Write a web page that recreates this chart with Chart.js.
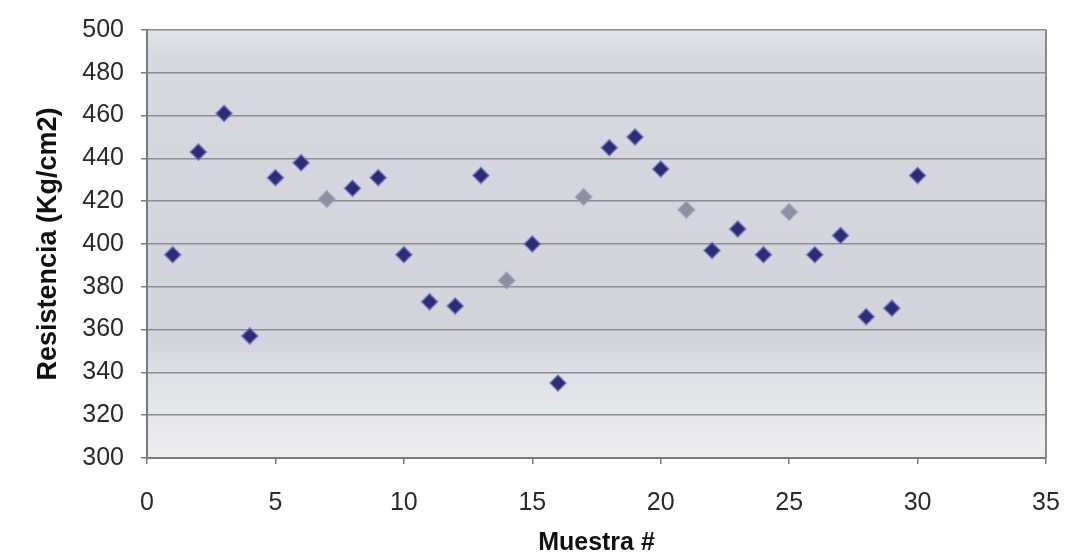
<!DOCTYPE html>
<html>
<head>
<meta charset="utf-8">
<script src="https://cdn.jsdelivr.net/npm/chart.js@4/dist/chart.umd.min.js"></script>
<style>
  html, body { margin: 0; padding: 0; background: #ffffff; }
  #wrap { width: 1065px; height: 560px; }
</style>
</head>
<body>
<div id="wrap"><canvas id="c" width="1065" height="560"></canvas></div>
<script>
// ---- data ----
const muestras = [1, 2, 3, 4, 5, 6, 7, 8, 9, 10, 11, 12, 13, 14, 15,
                  16, 17, 18, 19, 20, 21, 22, 23, 24, 25, 26, 27, 28, 29, 30];
const resistencia = [395, 443, 461, 357, 431, 438, 421, 426, 431, 395,
                     373, 371, 432, 383, 400, 335, 422, 445, 450, 435,
                     416, 397, 407, 395, 415, 395, 404, 366, 370, 432];
const xTickValues = [0, 5, 10, 15, 20, 25, 30, 35];
const yTickValues = [300, 320, 340, 360, 380, 400, 420, 440, 460, 480, 500];
const xTitle = 'Muestra #';
const yTitle = 'Resistencia (Kg/cm2)';
// samples that appear faded (greyish) in the scanned reference
const fadedSamples = [7, 14, 17, 21, 25];

const points = muestras.map((m, i) => ({ x: m, y: resistencia[i] }));
const fillColors = muestras.map(m => fadedSamples.includes(m) ? '#8d8fa3' : '#2c2d78');
const edgeColors = muestras.map(m => fadedSamples.includes(m) ? 'rgba(150,152,170,0.6)' : 'rgba(110,112,190,0.55)');

const plotBackground = {
  id: 'plotBackground',
  beforeDraw(chart) {
    const { ctx, chartArea: a } = chart;
    ctx.save();
    const g = ctx.createLinearGradient(0, a.top, 0, a.bottom);
    g.addColorStop(0.00, '#e2e2e8');
    g.addColorStop(0.06, '#d8d9e0');
    g.addColorStop(0.50, '#d3d4dc');
    g.addColorStop(0.72, '#d2d3db');
    g.addColorStop(0.80, '#dfe0e5');
    g.addColorStop(1.00, '#eeeef1');
    ctx.fillStyle = g;
    ctx.fillRect(a.left, a.top, a.right - a.left, a.bottom - a.top);
    ctx.restore();
  },
  afterDatasetsDraw(chart) {
    const { ctx, chartArea: a } = chart;
    ctx.save();
    ctx.strokeStyle = '#8a8a8e';
    ctx.lineWidth = 2;
    ctx.beginPath();
    ctx.moveTo(a.right, a.top);
    ctx.lineTo(a.right, a.bottom);
    ctx.stroke();
    ctx.restore();
  }
};

const tickFont = { family: '"Liberation Sans", Arial, sans-serif', size: 25 };
const titleFontX = { family: '"Liberation Sans", Arial, sans-serif', size: 25, weight: 'bold', lineHeight: 1.2 };
const titleFontY = { family: '"Liberation Sans", Arial, sans-serif', size: 27, weight: 'bold', lineHeight: 1.2 };

new Chart(document.getElementById('c'), {
  type: 'scatter',
  data: {
    datasets: [{
      label: yTitle,
      data: points,
      pointStyle: 'rectRot',
      pointRadius: 8,
      pointHoverRadius: 8,
      pointBackgroundColor: fillColors,
      pointBorderColor: edgeColors,
      pointBorderWidth: 2,
      showLine: false
    }]
  },
  options: {
    responsive: false,
    animation: false,
    devicePixelRatio: 1,
    layout: { padding: { left: 20, right: 19, top: 30, bottom: 0 } },
    plugins: {
      legend: { display: false },
      tooltip: { enabled: false }
    },
    scales: {
      x: {
        type: 'linear',
        min: 0, max: 35,
        afterBuildTicks(scale) { scale.ticks = xTickValues.map(v => ({ value: v })); },
        afterFit(scale) { scale.height = 102; scale.paddingLeft = 0; scale.paddingRight = 0; },
        grid: { drawOnChartArea: false, drawTicks: true, tickLength: 6, tickColor: '#7a7a7a', lineWidth: 1.5 },
        border: { display: true, color: '#7a7a7e', width: 2 },
        ticks: { font: tickFont, color: '#2a2a2a', padding: 24, maxRotation: 0, autoSkip: false },
        title: { display: true, text: xTitle, font: titleFontX, color: '#111111', padding: { top: 0, bottom: 2 } }
      },
      y: {
        type: 'linear',
        min: 300, max: 500,
        afterBuildTicks(scale) { scale.ticks = yTickValues.map(v => ({ value: v })); },
        afterFit(scale) { scale.width = 127; scale.paddingTop = 0; scale.paddingBottom = 0; },
        grid: { drawOnChartArea: true, drawTicks: true, tickLength: 6, color: '#8e8e92', tickColor: '#7a7a7a', lineWidth: 1.5 },
        border: { display: true, color: '#7a7a7e', width: 2 },
        ticks: { font: tickFont, color: '#2a2a2a', padding: 17, autoSkip: false },
        title: { display: true, text: yTitle, font: titleFontY, color: '#111111', padding: { top: 12, bottom: 0 } }
      }
    }
  },
  plugins: [plotBackground]
});
</script>
</body>
</html>
